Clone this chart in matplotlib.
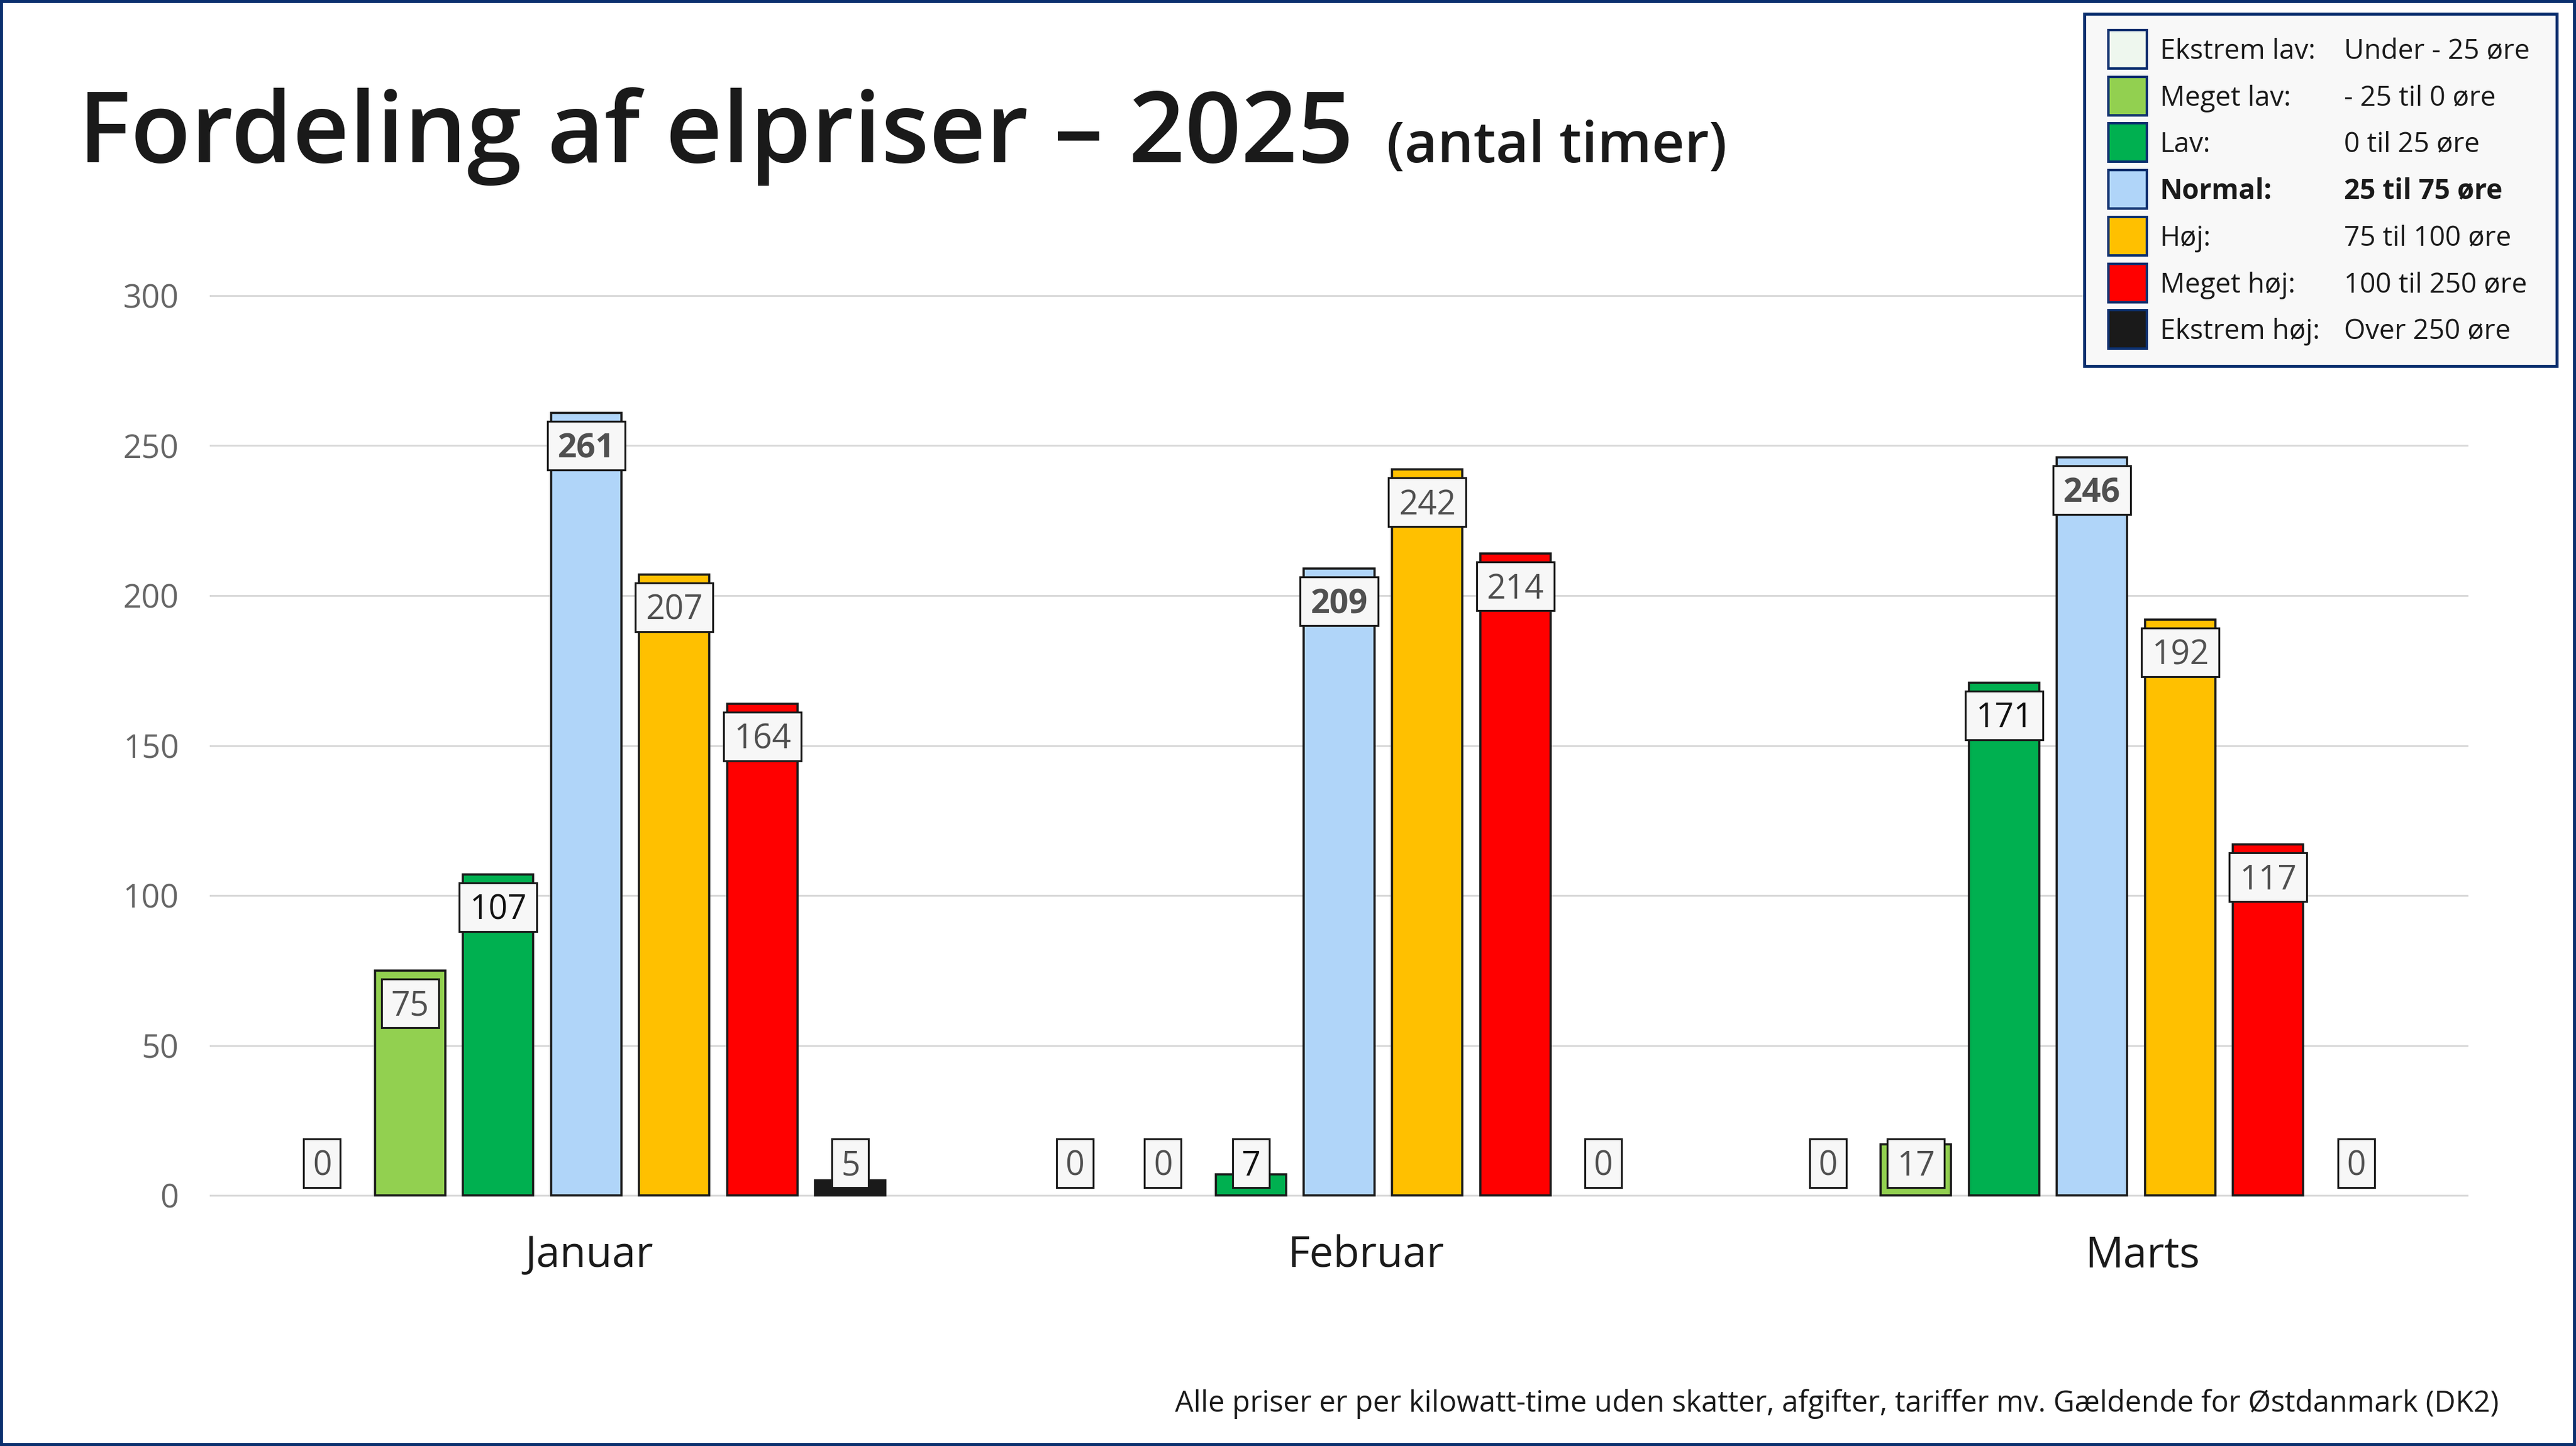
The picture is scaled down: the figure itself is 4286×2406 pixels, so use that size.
import numpy as np
import matplotlib
matplotlib.use("Agg")
import matplotlib.pyplot as plt
from matplotlib.patches import Rectangle

# output size in pixels
W, H = 4286, 2406
DPI = 100

# DATA - - - - - - - - - - - - - - - - - - - - - - - - - - - - - - - - - - - -
months = ["Januar", "Februar", "Marts"]

ekstrem_lav = [0, 0, 0]
meget_lav = [75, 0, 17]
lav = [107, 7, 171]
normal = [261, 209, 246]
hoj = [207, 242, 192]
meget_hoj = [164, 214, 117]
ekstrem_hoj = [5, 0, 0]

level_names = ["Ekstrem lav:", "Meget lav:", "Lav:", "Normal:", "Høj:", "Meget høj:", "Ekstrem høj:"]
level_ranges = ["Under - 25 øre", "- 25 til 0 øre", "0 til 25 øre", "25 til 75 øre",
                "75 til 100 øre", "100 til 250 øre", "Over 250 øre"]
colors = ["#eef7ee", "#92d050", "#00b050", "#b0d5f9", "#ffc000", "#ff0000", "#1a1a1a"]

series = [ekstrem_lav, meget_lav, lav, normal, hoj, meget_hoj, ekstrem_hoj]

NAVY = "#0a2f6e"
DARK = "#1a1a1a"

plt.rcParams['font.family'] = ['Open Sans', 'DejaVu Sans']

fig = plt.figure(figsize=(W / DPI, H / DPI), dpi=DPI)

# axes placed in pixels: 0 at y=1989, 300 at y=492, x from 349 to 4107
px_y = (1989 - 492) / 300.0
ax = fig.add_axes([349 / W, 1 - (1989 + px_y) / H, (4107 - 349) / W, (1497 + 2 * px_y) / H])

x = np.arange(len(months))
unit_x = 1252.5          # pixels per category
slot = 146.5 / unit_x
bar_w = 117 / unit_x
box_h = 81 / px_y

for i, (vals, col) in enumerate(zip(series, colors)):
    pos = x + (i - 3) * slot
    bars = ax.bar(pos, vals, width=bar_w, color=col, edgecolor=DARK, linewidth=2.6, zorder=2)
    for b, v in zip(bars, vals):
        if v == 0:
            b.set_visible(False)

    # value labels in small boxes
    for xp, v in zip(pos, vals):
        s = str(v)
        yc = max(v - 10.9, 10.7)
        bw = (27 + 34 * len(s)) / unit_x
        ax.add_patch(Rectangle((xp - bw / 2, yc - box_h / 2), bw, box_h, facecolor="#f7f7f7",
                               edgecolor=DARK, linewidth=2.3, zorder=4))
        ax.text(xp, yc - 20 / px_y, s, ha="center", va="baseline", fontsize=40,
                color="#111111" if i == 2 else "#505050",
                fontweight="bold" if i == 3 else "normal", zorder=5)

ax.set_xlim(-0.5, 2.5)
ax.set_ylim(-1, 301)
ax.set_yticks(range(0, 301, 50))
# month labels sit a little right of the bar groups in the original
ax.set_xticks(x * 1.0315 + 0.004)
ax.set_xticklabels(months)
ax.yaxis.grid(True, color="#d9d9d9", linewidth=2.2)
ax.set_axisbelow(True)
for sp in ax.spines.values():
    sp.set_visible(False)
ax.tick_params(axis="y", length=0, labelsize=39, labelcolor="#666666", pad=37)
ax.tick_params(axis="x", length=0, labelsize=51, labelcolor=DARK, pad=43)

# TITLE - - - - - - - - - - - - - - - - - - - - - - - - - - - - - - - - - - - -
title = fig.text(130 / W, 1 - 270 / H, "Fordeling af elpriser – 2025", fontsize=118,
                 va="baseline", ha="left", color=DARK, fontweight="semibold")
fig.canvas.draw()
bb = title.get_window_extent()
fig.text((bb.x1 + 55) / W, 1 - 270 / H, "(antal timer)", fontsize=68,
         va="baseline", ha="left", color=DARK, fontweight="semibold")

# LEGEND BOX - - - - - - - - - - - - - - - - - - - - - - - - - - - - - - - - -
fig.add_artist(Rectangle((3468 / W, 1 - 609 / H), 786 / W, 586 / H, transform=fig.transFigure,
                         facecolor="#f8f8f8", edgecolor=NAVY, linewidth=3.6))
for k, (name, rng, col) in enumerate(zip(level_names, level_ranges, colors)):
    cy = 82 + 77.7 * k
    fig.add_artist(Rectangle((3508 / W, 1 - (cy + 32) / H), 64 / W, 64 / H, transform=fig.transFigure,
                             facecolor=col, edgecolor=NAVY, linewidth=2.9))
    fw = "bold" if k == 3 else "normal"
    fig.text(3594 / W, 1 - (cy + 16) / H, name, fontsize=33, va="baseline", color=DARK, fontweight=fw)
    fig.text(3900 / W, 1 - (cy + 16) / H, rng, fontsize=33, va="baseline", color=DARK, fontweight=fw)

# footnote
fig.text(4158 / W, 1 - 2349 / H,
         "Alle priser er per kilowatt-time uden skatter, afgifter, tariffer mv. Gældende for Østdanmark (DK2)",
         fontsize=35, ha="right", va="baseline", color=DARK)

# outer frame
fig.add_artist(Rectangle((0, 0), 1, 1, transform=fig.transFigure, fill=False,
                         edgecolor=NAVY, linewidth=7.2))

fig.savefig("out.png", dpi=DPI)
